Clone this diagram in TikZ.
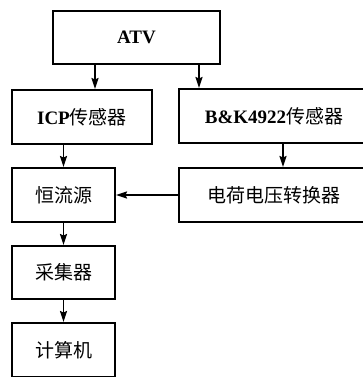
\documentclass[tikz,border=0pt]{standalone}
\usepackage{fontspec}
\setmainfont{Liberation Serif}
\newfontfamily\cjk{Noto Sans CJK SC}
\usetikzlibrary{arrows.meta}
\begin{document}
\begin{tikzpicture}[x=1pt,y=-1pt,
  box/.style={draw,line width=2pt,minimum width=#1,minimum height=54pt,inner sep=0pt,
    font=\fontsize{19}{21}\selectfont},
  arr/.style={line width=1.6pt,-{Stealth[length=11pt,width=7pt,inset=1.5pt]}}]
\useasboundingbox (0,0) rectangle (362,377);
\node[box=167pt,minimum height=53pt] (atv) at (136.5,37.5) {\bfseries ATV};
\node[box=140pt] (icp) at (82,117) {{\bfseries ICP}{\cjk 传感器}};
\node[box=190pt] (bk) at (274,116) {{\bfseries B\&K4922}{\cjk 传感器}};
\node[box=103pt] (hl) at (63.5,195) {\cjk 恒流源};
\node[box=190pt] (dh) at (274,195) {\cjk 电荷电压转换器};
\node[box=103pt,minimum height=53pt] (cj) at (63.5,272.5) {\cjk 采集器};
\node[box=103pt] (js) at (63.5,350) {\cjk 计算机};
\coordinate (c1) at (95,0);
\coordinate (c2) at (199,0);
\coordinate (c3) at (283,0);
\draw[arr] (atv.south -| c1) -- (icp.north -| c1);
\draw[arr] (atv.south -| c2) -- (bk.north -| c2);
\draw[arr] (icp.south -| hl) -- (hl.north);
\draw[arr] (bk.south -| c3) -- (dh.north -| c3);
\draw[arr] (dh.west) -- (hl.east);
\draw[arr] (hl.south) -- (cj.north);
\draw[arr] (cj.south) -- (js.north);
\end{tikzpicture}
\end{document}
